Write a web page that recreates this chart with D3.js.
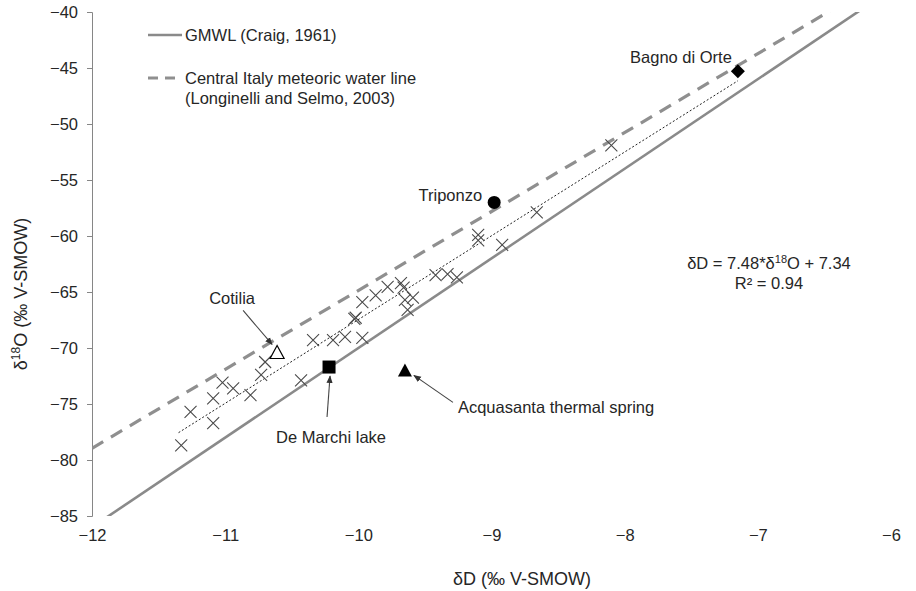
<!DOCTYPE html>
<html>
<head>
<meta charset="utf-8">
<script src="https://cdn.jsdelivr.net/npm/d3@7"></script>
<style>
  body { margin: 0; background: #fff; }
  text { font-family: "Liberation Sans", Arial, sans-serif; fill: #262626; }
</style>
</head>
<body>
<div id="chart"></div>
<script>
// samples (x = δD axis, y = δ18O axis as labelled)
const sampleX = [-11.33, -11.26, -11.09, -11.09, -11.02, -10.94, -10.81, -10.73, -10.70, -10.43,
                 -10.34, -10.19, -10.10, -9.97, -10.02, -10.03, -9.97, -9.87, -9.78, -9.68,
                 -9.66, -9.65, -9.59, -9.63, -9.42, -9.33, -9.26, -9.10, -9.10, -8.92, -8.66, -8.10]
const sampleY = [-78.7, -75.7, -76.7, -74.5, -73.1, -73.6, -74.2, -72.4, -71.25, -72.9,
                 -69.3, -69.3, -69.0, -69.1, -67.3, -67.4, -65.9, -65.3, -64.55, -64.2,
                 -64.6, -65.7, -65.5, -66.6, -63.5, -63.4, -63.7, -59.9, -60.4, -60.8, -57.9, -51.9]

// named sites
const siteNames = ["Bagno di Orte", "Triponzo", "Cotilia", "De Marchi lake", "Acquasanta thermal spring"]
const siteX = [-7.15, -8.98, -10.61, -10.22, -9.65]
const siteY = [-45.3, -57.0, -70.4, -71.7, -72.0]

// lines: y = slope * x + intercept
const gmwl = { slope: 8, intercept: 10 }
const cimwl = { slope: 7.047, intercept: 5.608 }
const regr = { slope: 7.48, intercept: 7.34, from: -11.35, to: -7.15 }

const xTicks = [-12, -11, -10, -9, -8, -7, -6]
const yTicks = [-85, -80, -75, -70, -65, -60, -55, -50, -45, -40]

const margin = { top: 12, right: 25, bottom: 75, left: 92 }
const width = 916 - margin.left - margin.right
const height = 591 - margin.top - margin.bottom
const fs = "16.5px"

const svg = d3.select("#chart").append("svg")
    .attr("width", 916)
    .attr("height", 591)

const defs = svg.append("defs")
defs.append("clipPath").attr("id", "plot")
  .append("rect").attr("width", width).attr("height", height)
defs.append("marker")
    .attr("id", "arrow")
    .attr("viewBox", "0 0 10 10")
    .attr("refX", 9).attr("refY", 5)
    .attr("markerWidth", 7).attr("markerHeight", 7)
    .attr("orient", "auto")
  .append("path")
    .attr("d", "M0,1 L10,5 L0,9 Z")
    .attr("fill", "#333")

const g = svg.append("g").attr("transform", `translate(${margin.left}, ${margin.top})`)

const x = d3.scaleLinear().domain([-12, -6]).range([0, width])
const y = d3.scaleLinear().domain([-85, -40]).range([height, 0])

// axes
const yAxis = g.append("g")
    .call(d3.axisLeft(y).tickValues(yTicks).tickSize(5).tickPadding(9).tickFormat(d3.format("d")))
yAxis.selectAll("path, line").attr("stroke", "#868686")
yAxis.selectAll("text").style("font-size", fs).attr("fill", "#262626")

const xAxis = g.append("g")
    .attr("transform", `translate(0, ${height})`)
    .call(d3.axisBottom(x).tickValues(xTicks).tickSize(0).tickPadding(13).tickFormat(d3.format("d")))
xAxis.select(".domain").remove()
xAxis.selectAll("text").style("font-size", fs).attr("fill", "#262626")

// axis titles
svg.append("text")
    .attr("x", 522).attr("y", 585)
    .attr("text-anchor", "middle")
    .style("font-size", "18px")
    .text("δD (‰ V-SMOW)")

const yt = svg.append("text")
    .attr("transform", "translate(27, 294) rotate(-90)")
    .attr("text-anchor", "middle")
    .style("font-size", "18px")
yt.append("tspan").text("δ")
yt.append("tspan").attr("dy", -7).style("font-size", "12px").text("18")
yt.append("tspan").attr("dy", 7).text("O (‰ V-SMOW)")

// meteoric water lines
const plot = g.append("g").attr("clip-path", "url(#plot)")
const lineFn = (p, x0, x1) => [[x(x0), y(p.slope * x0 + p.intercept)], [x(x1), y(p.slope * x1 + p.intercept)]]

plot.append("path")
    .attr("d", d3.line()(lineFn(gmwl, -12.5, -5.5)))
    .attr("stroke", "#8a8a8a").attr("stroke-width", 2.6).attr("fill", "none")

plot.append("path")
    .attr("d", d3.line()(lineFn(cimwl, -12, -5.5)))
    .attr("stroke", "#8f8f8f").attr("stroke-width", 3.2)
    .attr("stroke-dasharray", "13,9").attr("fill", "none")

plot.append("path")
    .attr("d", d3.line()(lineFn(regr, regr.from, regr.to)))
    .attr("stroke", "#222").attr("stroke-width", 1)
    .attr("stroke-dasharray", "2,2").attr("fill", "none")

// sample crosses
g.selectAll(".cross")
  .data(sampleX.map((d, i) => [d, sampleY[i]]))
  .enter()
  .append("path")
    .attr("class", "cross")
    .attr("transform", d => `translate(${x(d[0])}, ${y(d[1])})`)
    .attr("d", "M-6,-6 L6,6 M-6,6 L6,-6")
    .attr("stroke", "#4a4a4a").attr("stroke-width", 1.1).attr("fill", "none")

// site markers
const sites = siteNames.map((n, i) => ({ name: n, px: x(siteX[i]), py: y(siteY[i]) }))
const s = g.append("g")
s.append("path").attr("transform", `translate(${sites[0].px}, ${sites[0].py})`)
    .attr("d", "M0,-7 L7,0 L0,7 L-7,0 Z").attr("fill", "#000")
s.append("circle").attr("cx", sites[1].px).attr("cy", sites[1].py).attr("r", 6.5).attr("fill", "#000")
s.append("path").attr("transform", `translate(${sites[2].px}, ${sites[2].py})`)
    .attr("d", "M0,-7 L7,6 L-7,6 Z").attr("fill", "#fff").attr("stroke", "#000").attr("stroke-width", 1.2)
s.append("rect").attr("x", sites[3].px - 6.5).attr("y", sites[3].py - 6.5)
    .attr("width", 13).attr("height", 13).attr("fill", "#000")
s.append("path").attr("transform", `translate(${sites[4].px}, ${sites[4].py})`)
    .attr("d", "M0,-7 L7,6 L-7,6 Z").attr("fill", "#000")

// site labels and arrows
const lab = g.append("g").style("font-size", fs)
lab.append("text").attr("x", sites[0].px - 6).attr("y", sites[0].py - 8).attr("text-anchor", "end").text(siteNames[0])
lab.append("text").attr("x", sites[1].px - 12).attr("y", sites[1].py - 1).attr("text-anchor", "end").text(siteNames[1])
lab.append("text").attr("x", sites[2].px - 45).attr("y", sites[2].py - 48).attr("text-anchor", "middle").text(siteNames[2])
lab.append("text").attr("x", sites[3].px + 2).attr("y", sites[3].py + 76).attr("text-anchor", "middle").text(siteNames[3])
lab.append("text").attr("x", sites[4].px + 53).attr("y", sites[4].py + 43).attr("text-anchor", "start").text(siteNames[4])

const arrows = [
  [sites[2].px - 34, sites[2].py - 42, sites[2].px - 5, sites[2].py - 8],
  [sites[3].px - 2, sites[3].py + 50, sites[3].px + 1, sites[3].py + 9],
  [sites[4].px + 48, sites[4].py + 32, sites[4].px + 9, sites[4].py + 5]
]
g.selectAll(".arrow").data(arrows).enter().append("line")
    .attr("x1", d => d[0]).attr("y1", d => d[1])
    .attr("x2", d => d[2]).attr("y2", d => d[3])
    .attr("stroke", "#444").attr("stroke-width", 1.1)
    .attr("marker-end", "url(#arrow)")

// regression equation
const eq = svg.append("text").attr("x", 769).attr("y", 269).attr("text-anchor", "middle").style("font-size", fs)
eq.append("tspan").text("δD = 7.48*δ")
eq.append("tspan").attr("dy", -6).style("font-size", "11px").text("18")
eq.append("tspan").attr("dy", 6).text("O + 7.34")
svg.append("text").attr("x", 769).attr("y", 289).attr("text-anchor", "middle").style("font-size", fs).text("R² = 0.94")

// legend
const leg = svg.append("g").style("font-size", fs)
leg.append("line").attr("x1", 148).attr("x2", 182).attr("y1", 35).attr("y2", 35)
    .attr("stroke", "#8a8a8a").attr("stroke-width", 2.6)
leg.append("text").attr("x", 185).attr("y", 41).text("GMWL (Craig, 1961)")
leg.append("line").attr("x1", 148).attr("x2", 180).attr("y1", 78).attr("y2", 78)
    .attr("stroke", "#8f8f8f").attr("stroke-width", 3.2).attr("stroke-dasharray", "10,7")
leg.append("text").attr("x", 185).attr("y", 84).text("Central Italy meteoric water line")
leg.append("text").attr("x", 185).attr("y", 104).text("(Longinelli and Selmo, 2003)")
</script>
</body>
</html>
